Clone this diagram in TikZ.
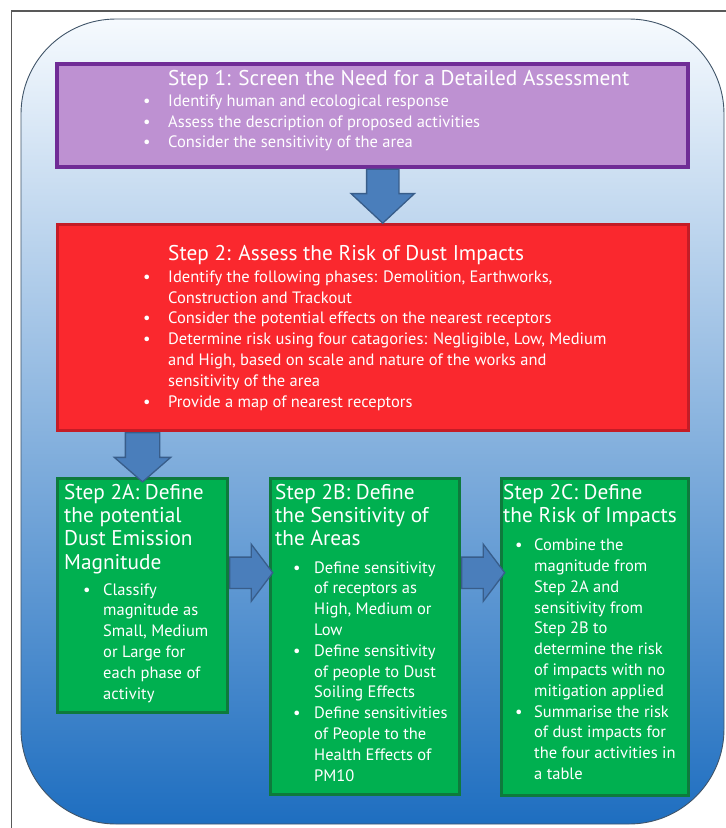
\documentclass[tikz,border=0pt]{standalone}
\usepackage{fontspec}
\setmainfont{PT Sans}
\usetikzlibrary{positioning, shapes.arrows}

\definecolor{bgtop}{RGB}{246,250,254}
\definecolor{bgmid}{RGB}{140,186,228}
\definecolor{bgbot}{RGB}{30,110,192}
\definecolor{bgline}{RGB}{65,85,105}
\definecolor{purplefill}{RGB}{190,145,210}
\definecolor{purpleline}{RGB}{112,44,150}
\definecolor{redfill}{RGB}{250,40,46}
\definecolor{redline}{RGB}{196,28,38}
\definecolor{greenfill}{RGB}{0,176,80}
\definecolor{greenline}{RGB}{14,122,60}
\definecolor{arrowfill}{RGB}{74,126,187}
\definecolor{arrowline}{RGB}{56,93,138}

% bullet and hanging indent
\newcommand{\bul}[1][20pt]{\makebox[#1][l]{\textbullet}}
\newcommand{\bulind}[1][20pt]{\hspace*{#1}}

\begin{document}
\begin{tikzpicture}[x=1pt, y=-1pt,
    box/.style={draw, line width=3.5pt, anchor=north west, inner sep=0pt},
    stepone/.style={box, fill=purplefill, draw=purpleline},
    steptwo/.style={box, fill=redfill, draw=redline},
    substep/.style={box, fill=greenfill, draw=greenline},
    % base west = baseline of the last line
    head/.style={text=white, anchor=base west, inner sep=0pt, align=left,
      font=\fontsize{21.3}{23.3}\selectfont},
    list/.style={text=white, anchor=base west, inner sep=0pt, align=left,
      font=\fontsize{16.5}{20.8}\selectfont},
    blockarrow/.style={single arrow, draw=arrowline, fill=arrowfill,
      line width=1.3pt, single arrow head indent=0pt, anchor=tail}]
    \useasboundingbox (0,0) rectangle (726,828);

    % frame and background panel
    \draw[black!65, line width=1.2pt] (11.5,828) -- (11.5,11) -- (726,11);
    \path[rounded corners=95pt, top color=bgtop, middle color=bgmid, bottom color=bgbot,
      draw=bgline, line width=0.9pt] (21,19) rectangle (724,824);

    % boxes
    \node[stepone, minimum width=631pt, minimum height=103pt] (s1) at (55,62) {};
    \node[steptwo, minimum width=631pt, minimum height=206pt] (s2) at (55.5,222.5) {};
    \node[substep, minimum width=170pt, minimum height=234pt] (s2a) at (55.5,476.5) {};
    \node[substep, minimum width=189pt, minimum height=316pt] (s2b) at (268.5,476.5) {};
    \node[substep, minimum width=187pt, minimum height=317pt] (s2c) at (499.5,476.5) {};

    % arrows between the boxes
    \node[blockarrow, shape border rotate=270, inner sep=15.5pt, minimum height=54pt,
      single arrow head extend=15.5pt, single arrow tip angle=94]
      (a1) at ([xshift=10.5pt]s1.south) {};
    \node[blockarrow, shape border rotate=270, inner sep=16.5pt, minimum height=44pt,
      single arrow head extend=11pt, single arrow tip angle=98]
      (a2) at ([xshift=87pt]s2.south west) {};
    \node[blockarrow, inner sep=15pt, minimum height=38pt,
      single arrow head extend=13pt, single arrow tip angle=106]
      (a3) at ([yshift=22.5pt]s2a.east) {};
    \node[blockarrow, inner sep=15pt, minimum height=38pt,
      single arrow head extend=13pt, single arrow tip angle=106]
      (a4) at (a3.tail -| s2b.east) {};

    % step 1
    \node[head] (s1head) at (168,85) {Step 1: Screen the Need for a Detailed Assessment};
    \node[list, font=\fontsize{16.5}{20.5}\selectfont] (s1list) at (143,147.5) {%
      \bul[25pt]Identify human and ecological response\\
      \bul[25pt]Assess the description of proposed activities\\
      \bul[25pt]Consider the sensitivity of the area};

    % step 2
    \node[head] (s2head) at (168,260) {Step 2: Assess the Risk of Dust Impacts};
    \node[list] (s2list) at (143,407) {%
      \bul[25pt]Identify the following phases: Demolition, Earthworks,\\
      \bulind[25pt]Construction and Trackout\\
      \bul[25pt]Consider the potential effects on the nearest receptors\\
      \bul[25pt]Determine risk using four catagories: Negligible, Low, Medium\\
      \bulind[25pt]and High, based on scale and nature of the works and\\
      \bulind[25pt]sensitivity of the area\\
      \bul[25pt]Provide a map of nearest receptors};

    % step 2A
    \node[head] (s2ahead) at (64,569) {Step 2A: Define\\the potential\\Dust Emission\\Magnitude};
    \node[list] (s2alist) at (83,699) {%
      \bul Classify\\
      \bulind magnitude as\\
      \bulind Small, Medium\\
      \bulind or Large for\\
      \bulind each phase of\\
      \bulind activity};

    % step 2B
    \node[head] (s2bhead) at (275,545.6) {Step 2B: Define\\the Sensitivity of\\the Areas};
    \node[list] (s2blist) at (293,781) {%
      \bul[21pt]Define sensitivity\\
      \bulind[21pt]of receptors as\\
      \bulind[21pt]High, Medium or\\
      \bulind[21pt]Low\\
      \bul[21pt]Define sensitivity\\
      \bulind[21pt]of people to Dust\\
      \bulind[21pt]Soiling Effects\\
      \bul[21pt]Define sensitivities\\
      \bulind[21pt]of People to the\\
      \bulind[21pt]Health Effects of\\
      \bulind[21pt]PM10};

    % step 2C
    \node[head] (s2chead) at (503,522.3) {Step 2C: Define\\the Risk of Impacts};
    \node[list] (s2clist) at (515,779.5) {%
      \bul[19pt]Combine the\\
      \bulind[19pt]magnitude from\\
      \bulind[19pt]Step 2A and\\
      \bulind[19pt]sensitivity from\\
      \bulind[19pt]Step 2B to\\
      \bulind[19pt]determine the risk\\
      \bulind[19pt]of impacts with no\\
      \bulind[19pt]mitigation applied\\
      \bul[19pt]Summarise the risk\\
      \bulind[19pt]of dust impacts for\\
      \bulind[19pt]the four activities in\\
      \bulind[19pt]a table};
\end{tikzpicture}
\end{document}
